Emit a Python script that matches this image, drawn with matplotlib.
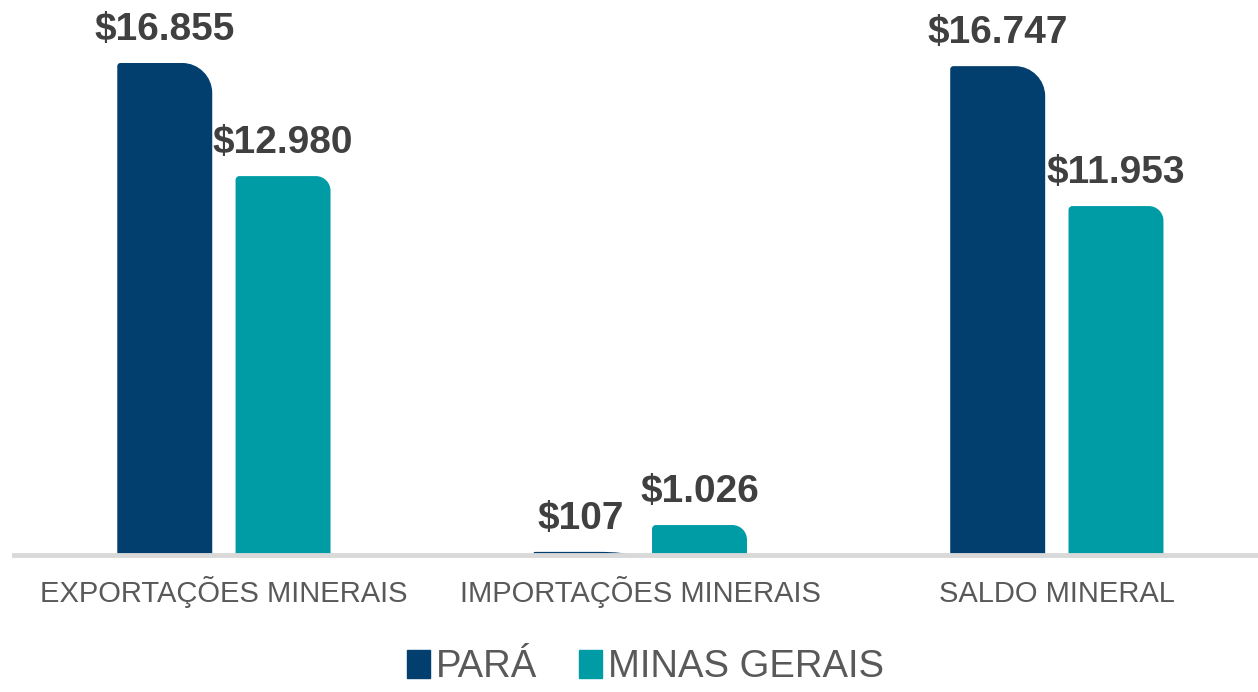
import matplotlib.pyplot as plt
from matplotlib.path import Path
from matplotlib.patches import PathPatch
import numpy as np

categories = ["EXPORTAÇÕES MINERAIS", "IMPORTAÇÕES MINERAIS", "SALDO MINERAL"]
para = [16855, 107, 16747]
minas = [12980, 1026, 11953]
para_labels = ["$16.855", "$107", "$16.747"]
minas_labels = ["$12.980", "$1.026", "$11.953"]

navy = "#023E6E"
teal = "#009CA6"
gray_text = "#595959"

plt.rcParams['font.family'] = ['Liberation Sans', 'DejaVu Sans']

fig = plt.figure(figsize=(12.58, 6.92), dpi=100)
ax = fig.add_axes([14 / 1258, 1 - 555 / 692, 1244 / 1258, 555 / 692])

x = np.arange(len(categories))
w = 0.228
off = 0.142
b1 = ax.bar(x - off, para, w, color=navy)
b2 = ax.bar(x + off, minas, w, color=teal)

ax.set_xlim(-0.504, 2.483)
ax.set_ylim(0, 19013)


def round_bar(rect, rx, ry, rl):
    # rounded top-right corner (and a small top-left one)
    x0, y0 = rect.get_x(), rect.get_y()
    bw, bh = rect.get_width(), rect.get_height()
    ry = min(ry, bh)
    ly = min(ry * rl, bh)
    lx = rx * rl
    k = 0.55
    verts = [
        (x0, y0),
        (x0 + bw, y0),
        (x0 + bw, y0 + bh - ry),
        (x0 + bw, y0 + bh - ry + k * ry), (x0 + bw - rx + k * rx, y0 + bh), (x0 + bw - rx, y0 + bh),
        (x0 + lx, y0 + bh),
        (x0 + lx - k * lx, y0 + bh), (x0, y0 + bh - k * ly), (x0, y0 + bh - ly),
        (x0, y0),
    ]
    codes = [Path.MOVETO, Path.LINETO, Path.LINETO,
             Path.CURVE4, Path.CURVE4, Path.CURVE4,
             Path.LINETO,
             Path.CURVE4, Path.CURVE4, Path.CURVE4,
             Path.CLOSEPOLY]
    patch = PathPatch(Path(verts, codes), facecolor=rect.get_facecolor(),
                      edgecolor='none', zorder=rect.get_zorder())
    rect.set_visible(False)
    ax.add_patch(patch)


for r in b1:
    round_bar(r, 0.072, 1030, 0.1)
for r in b2:
    round_bar(r, 0.035, 500, 0.25)

for bars, labels in ((b1, para_labels), (b2, minas_labels)):
    for r, lab in zip(bars, labels):
        ax.annotate(lab, (r.get_x() + r.get_width() / 2, r.get_height()),
                    xytext=(0, 11), textcoords='offset points',
                    ha='center', va='bottom', fontsize=28, fontweight='bold',
                    color="#404040")

for s in ['top', 'right', 'left']:
    ax.spines[s].set_visible(False)
ax.spines['bottom'].set_color("#D9D9D9")
ax.spines['bottom'].set_linewidth(3.5)
ax.set_yticks([])
ax.set_xticks(x)
ax.set_xticklabels(categories, fontsize=21, color=gray_text, va='baseline')
ax.tick_params(axis='x', length=0, pad=34)

fig.legend(handles=[plt.Rectangle((0, 0), 1, 1, color=navy),
                    plt.Rectangle((0, 0), 1, 1, color=teal)],
           labels=["PARÁ", "MINAS GERAIS"], loc='center', ncol=2,
           bbox_to_anchor=(0.513, 0.036), frameon=False, fontsize=27.5,
           handlelength=0.6, handleheight=0.75, handletextpad=0.15,
           columnspacing=1.1, labelcolor=gray_text)

fig.savefig("out.png", dpi=100)
